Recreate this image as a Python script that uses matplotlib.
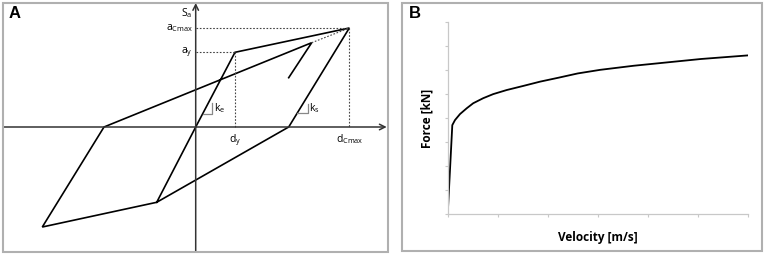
import numpy as np
import matplotlib.pyplot as plt
from matplotlib.patches import Rectangle

plt.rcParams['font.family'] = ['Open Sans', 'DejaVu Sans']
plt.rcParams['mathtext.fontset'] = 'custom'
plt.rcParams['mathtext.rm'] = 'Open Sans'
plt.rcParams['mathtext.it'] = 'Open Sans'

# panel A: hysteresis loop (schematic units, origin at axis crossing)
d_y, a_y = 39.3, 74.7
d_cmax, a_cmax = 153.6, 99.0
loop_x = [-39.0, 0.0, d_y, d_cmax, 93.0, -39.0, -153.4, -91.7, 116.0, 93.0]
loop_y = [-75.3, 0.0, a_y, a_cmax, 0.0, -75.3, -100.0, 0.0, 84.3, 49.3]
reload_tip = (116.0, 84.3)

# panel B: force-velocity curve
velocity = [0.0, 0.092, 0.146, 0.246, 0.38, 0.51, 0.71, 0.91, 1.18, 1.51, 1.85,
            2.21, 2.6, 3.05, 3.72, 4.39, 5.06, 6.0]
force = [0.0, 3.71, 3.92, 4.17, 4.41, 4.62, 4.83, 5.00, 5.17, 5.34, 5.52,
         5.68, 5.86, 6.01, 6.18, 6.32, 6.46, 6.61]

W, H = 765, 256
fig = plt.figure(figsize=(W / 100, H / 100), dpi=100)

frame_col = '#b0b0b0'
fig.patches.append(Rectangle((3 / W, 4 / H), 385 / W, 249 / H, transform=fig.transFigure,
                             fill=False, ec=frame_col, lw=1.5))
fig.patches.append(Rectangle((402 / W, 5 / H), 360 / W, 248 / H, transform=fig.transFigure,
                             fill=False, ec=frame_col, lw=1.5))

# ---- panel A
ax = fig.add_axes([3 / W, 4 / H, 385 / W, 249 / H])
ax.set_xlim(-192.7, 192.3)
ax.set_ylim(-125, 124)
ax.axis('off')

ax.annotate('', xy=(191, 0), xytext=(-192.7, 0),
            arrowprops=dict(arrowstyle='->', color='#333333', lw=1.1, shrinkA=0, shrinkB=0))
ax.annotate('', xy=(0, 124), xytext=(0, -125),
            arrowprops=dict(arrowstyle='->', color='#333333', lw=1.1, shrinkA=0, shrinkB=0))

ax.plot(loop_x, loop_y, color='black', lw=1.2, solid_joinstyle='miter')

dot = dict(color='#444444', lw=0.8, ls=(0, (1.5, 1.5)))
ax.plot([0, d_cmax], [a_cmax, a_cmax], **dot)
ax.plot([0, d_y], [a_y, a_y], **dot)
ax.plot([d_y, d_y], [a_y, 0], **dot)
ax.plot([d_cmax, d_cmax], [a_cmax, 0], **dot)
ax.plot([reload_tip[0], d_cmax], [reload_tip[1], a_cmax], **dot)

# stiffness triangles
tri = dict(color='#888888', lw=0.9)
ax.plot([6.9, 16.5, 16.5], [13, 13, 24.3], **tri)
ax.plot([101.6, 112.3, 112.3], [14, 14, 23], **tri)

fs = 7.5
ax.text(-3, 114, r'$\mathregular{S_a}$', ha='right', va='center', fontsize=fs)
ax.text(-3, a_cmax, r'$\mathregular{a_{Cmax}}$', ha='right', va='center', fontsize=fs)
ax.text(-3, a_y, r'$\mathregular{a_y}$', ha='right', va='center', fontsize=fs)
ax.text(d_y, -5, r'$\mathregular{d_y}$', ha='center', va='top', fontsize=fs)
ax.text(d_cmax, -5, r'$\mathregular{d_{Cmax}}$', ha='center', va='top', fontsize=fs)
ax.text(18, 19, r'$\mathregular{k_e}$', ha='left', va='center', fontsize=fs)
ax.text(113.5, 19, r'$\mathregular{k_s}$', ha='left', va='center', fontsize=fs)

fig.text(9 / W, 1 - 14 / H, 'A', fontsize=12, fontweight='bold', family='Liberation Sans',
         ha='left', va='center')
fig.text(409 / W, 1 - 14 / H, 'B', fontsize=12, fontweight='bold', family='Liberation Sans',
         ha='left', va='center')

# ---- panel B
bx = fig.add_axes([447.7 / W, (H - 214.3) / H, 300 / W, 192.3 / H])
bx.plot(velocity, force, color='black', lw=1.3)
bx.set_xlim(0, 6)
bx.set_ylim(0, 8)
bx.set_xticks(np.arange(0, 7))
bx.set_yticks(np.arange(0, 9))
bx.tick_params(length=2, color='#c8c8c8', labelbottom=False, labelleft=False)
for s in ['top', 'right']:
    bx.spines[s].set_visible(False)
for s in ['left', 'bottom']:
    bx.spines[s].set_color('#c8c8c8')
    bx.spines[s].set_linewidth(0.9)
bx.set_xlabel('Velocity [m/s]', fontsize=8.5, fontweight='bold', labelpad=10)
bx.set_ylabel('Force [kN]', fontsize=8.5, fontweight='bold', labelpad=8)

fig.savefig('out.png', dpi=100)
